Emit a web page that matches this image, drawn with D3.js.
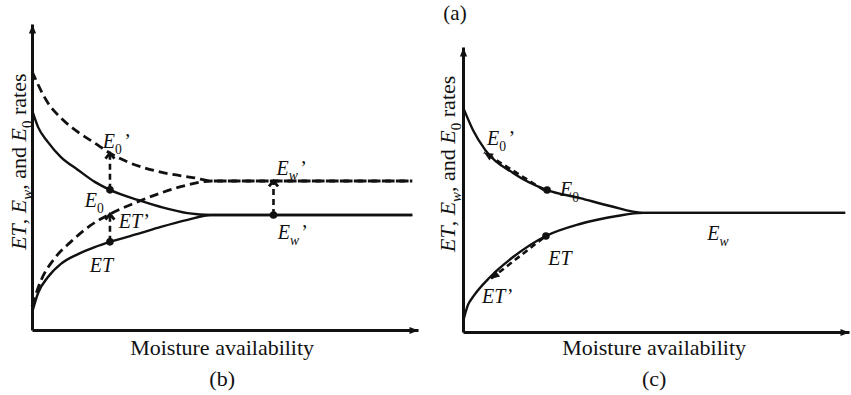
<!DOCTYPE html>
<html>
<head>
<meta charset="utf-8">
<script src="https://cdn.jsdelivr.net/npm/d3@7/dist/d3.min.js"></script>
<style>
  body { margin: 0; background: #fff; }
  svg text { font-family: "Liberation Serif", "DejaVu Serif", serif; fill: #111; }
</style>
</head>
<body>
<svg id="chart" width="851" height="395" font-family="Liberation Serif, DejaVu Serif, serif"></svg>
<script>
// values, both axes in arbitrary 0-10 units
// panel (b)
const bE0 = [[0, 7.19], [0.16, 6.63], [0.42, 6.14], [0.76, 5.65], [1.21, 5.23], [1.65, 4.84], [2.05, 4.58], [2.78, 4.25], [3.39, 4.02], [4.09, 3.82], [4.72, 3.76], [10, 3.76]];
const bE0p = [[0, 8.45], [0.42, 7.42], [0.76, 6.93], [1.21, 6.47], [1.65, 6.11], [2.05, 5.78], [2.52, 5.49], [3.39, 5.16], [4.28, 4.97], [4.72, 4.87], [10, 4.87]];
const bET = [[0, 0.56], [0.16, 1.21], [0.42, 1.73], [0.76, 2.16], [1.21, 2.48], [1.65, 2.71], [2.05, 2.88], [2.78, 3.14], [3.39, 3.37], [4.09, 3.6], [4.72, 3.76], [10, 3.76]];
const bETp = [[0, 0.78], [0.24, 1.63], [0.6, 2.35], [1.02, 2.88], [1.52, 3.4], [2.05, 3.79], [2.7, 4.15], [3.39, 4.48], [4.09, 4.74], [4.72, 4.87], [10, 4.87]];
const bDots = [[2.05, 4.58], [2.05, 2.88], [6.35, 3.76]];
const bArrows = [[[2.05, 4.58], [2.05, 5.78]], [[2.05, 2.88], [2.05, 3.79]], [[6.35, 3.76], [6.35, 4.87]]];

// panel (c)
const cE0 = [[0, 7.89], [0.26, 7.09], [0.58, 6.39], [1.31, 5.58], [2.2, 4.98], [3.06, 4.7], [3.85, 4.42], [4.71, 4.18], [10, 4.18]];
const cET = [[0, 0.35], [0.13, 0.95], [0.26, 1.23], [0.71, 1.93], [1.31, 2.63], [2.17, 3.37], [3.06, 3.79], [4.03, 4.07], [4.71, 4.18], [10, 4.18]];
const cDots = [[2.2, 4.98], [2.17, 3.37]];
const cArrows = [[[2.12, 4.98], [0.55, 6.3]], [[2.1, 3.3], [0.72, 1.86]]];

// label text: i = italic, s = subscript, si = italic subscript, p = prime, r = roman
const E0prime = [['E', 'i'], ['0', 's'], ['\u2019', 'p']];
const E0 = [['E', 'i'], ['0', 's']];
const ETprime = [['ET\u2019', 'i']];
const ET = [['ET', 'i']];
const Ewprime = [['E', 'i'], ['w', 'si'], ['\u2019', 'p']];
const Ew = [['E', 'i'], ['w', 'si']];
const bLabels = [[1.86, 5.95, E0prime], [1.39, 4.02, E0], [2.28, 3.33, ETprime], [1.52, 1.9, ET], [6.43, 5.07, Ewprime], [6.46, 2.97, Ewprime]];
const cLabels = [[0.63, 6.56, E0prime], [2.54, 4.77, E0], [2.23, 2.35, ET], [0.5, 1.02, ETprime], [6.39, 3.23, Ew]];

const yTitle = [['ET', 'i'], [', ', 'r'], ['E', 'i'], ['w', 'si'], [', and ', 'r'], ['E', 'i'], ['0', 's'], [' rates', 'r']];
const xTitle = 'Moisture availability';
const panelNames = ['(b)', '(c)'];
const topName = '(a)';

const INK = '#111';
const svg = d3.select('#chart');
const defs = svg.append('defs');

defs.append('marker')
  .attr('id', 'axisHead')
  .attr('viewBox', '-10 -5 11 10')
  .attr('refX', 0).attr('refY', 0)
  .attr('markerWidth', 11).attr('markerHeight', 10)
  .attr('markerUnits', 'userSpaceOnUse')
  .attr('orient', 'auto')
  .append('path')
  .attr('d', 'M-9,-3.6L0,0L-9,3.6Z')
  .attr('fill', INK);

defs.append('marker')
  .attr('id', 'chevron')
  .attr('viewBox', '-8 -6 10 12')
  .attr('refX', 0).attr('refY', 0)
  .attr('markerWidth', 10).attr('markerHeight', 12)
  .attr('markerUnits', 'userSpaceOnUse')
  .attr('orient', 'auto')
  .append('path')
  .attr('d', 'M-5.5,-4.5L0,0L-5.5,4.5')
  .attr('fill', 'none')
  .attr('stroke', INK)
  .attr('stroke-width', 2.8);

defs.append('marker')
  .attr('id', 'solidHead')
  .attr('viewBox', '-10 -5 11 10')
  .attr('refX', 0).attr('refY', 0)
  .attr('markerWidth', 11).attr('markerHeight', 10)
  .attr('markerUnits', 'userSpaceOnUse')
  .attr('orient', 'auto')
  .append('path')
  .attr('d', 'M-9,-4L0,0L-9,4Z')
  .attr('fill', INK);

function richText(sel, parts, size) {
  let shift = 0; // current subscript offset
  parts.forEach(([t, kind]) => {
    const ts = sel.append('tspan').text(t);
    if (kind === 'i' || kind === 'si') ts.style('font-style', 'italic');
    if (kind === 's' || kind === 'si') {
      ts.attr('font-size', size * 0.68).attr('dy', size * 0.28);
      shift = size * 0.28;
    } else {
      if (kind === 'p') ts.attr('dx', size * 0.12);
      if (shift) ts.attr('dy', -shift);
      shift = 0;
    }
  });
  return sel;
}

function drawPanel(cfg) {
  const x = d3.scaleLinear().domain([0, cfg.xMax]).range([cfg.left, cfg.right]);
  const y = d3.scaleLinear().domain([0, 10]).range([cfg.bottom, cfg.top]);
  const g = svg.append('g');

  // axes: only the domain line with an arrowhead, no ticks
  g.append('g')
    .attr('transform', `translate(0,${cfg.bottom})`)
    .call(d3.axisBottom(x).tickValues([]).tickSizeOuter(0))
    .select('.domain')
    .attr('stroke', INK).attr('stroke-width', 3)
    .attr('marker-end', 'url(#axisHead)');

  g.append('g')
    .attr('transform', `translate(${cfg.left},0)`)
    .call(d3.axisLeft(y).tickValues([]).tickSizeOuter(0))
    .select('.domain')
    .attr('stroke', INK).attr('stroke-width', 3)
    .attr('marker-end', 'url(#axisHead)');

  const line = d3.line()
    .x(d => x(d[0]))
    .y(d => y(d[1]))
    .curve(d3.curveMonotoneX);

  cfg.curves.forEach(c => {
    g.append('path')
      .datum(c.data)
      .attr('fill', 'none')
      .attr('stroke', INK)
      .attr('stroke-width', c.dashed ? 2.8 : 2.4)
      .attr('stroke-dasharray', c.dashed ? '9,5' : null)
      .attr('d', line);
  });

  cfg.arrows.forEach(([from, to]) => {
    g.append('line')
      .attr('x1', x(from[0])).attr('y1', y(from[1]))
      .attr('x2', x(to[0])).attr('y2', y(to[1]))
      .attr('stroke', INK)
      .attr('stroke-width', 2.6)
      .attr('stroke-dasharray', '6,4')
      .attr('marker-end', `url(#${cfg.head})`);
  });

  g.selectAll('circle')
    .data(cfg.dots)
    .join('circle')
    .attr('cx', d => x(d[0]))
    .attr('cy', d => y(d[1]))
    .attr('r', 3.8)
    .attr('fill', INK);

  cfg.labels.forEach(([lx, ly, parts]) => {
    richText(g.append('text').attr('x', x(lx)).attr('y', y(ly)).attr('font-size', 20), parts, 20);
  });

  // titles
  const cx = (x(0) + x(10)) / 2;
  g.append('text')
    .attr('x', cx).attr('y', 355)
    .attr('text-anchor', 'middle')
    .attr('font-size', 22)
    .text(xTitle);

  g.append('text')
    .attr('x', cx).attr('y', 386)
    .attr('text-anchor', 'middle')
    .attr('font-size', 22)
    .text(cfg.name);

  richText(g.append('text')
    .attr('transform', `translate(${cfg.left - cfg.titleGap},${y(cfg.titleAt)}) rotate(-90)`)
    .attr('text-anchor', 'middle')
    .attr('font-size', 22), yTitle, 22);
}

drawPanel({
  left: 32, right: 418, top: 24, bottom: 330, xMax: 10.15,
  titleGap: 6, titleAt: 5.5, name: panelNames[0], head: 'chevron',
  curves: [
    { data: bE0p, dashed: true },
    { data: bETp, dashed: true },
    { data: bE0 },
    { data: bET }
  ],
  dots: bDots, arrows: bArrows, labels: bLabels
});

drawPanel({
  left: 463, right: 849, top: 47, bottom: 332, xMax: 10.1,
  titleGap: 8, titleAt: 5.9, name: panelNames[1], head: 'solidHead',
  curves: [
    { data: cE0 },
    { data: cET }
  ],
  dots: cDots, arrows: cArrows, labels: cLabels
});

svg.append('text')
  .attr('x', 455).attr('y', 20)
  .attr('text-anchor', 'middle')
  .attr('font-size', 21)
  .text(topName);
</script>
</body>
</html>
